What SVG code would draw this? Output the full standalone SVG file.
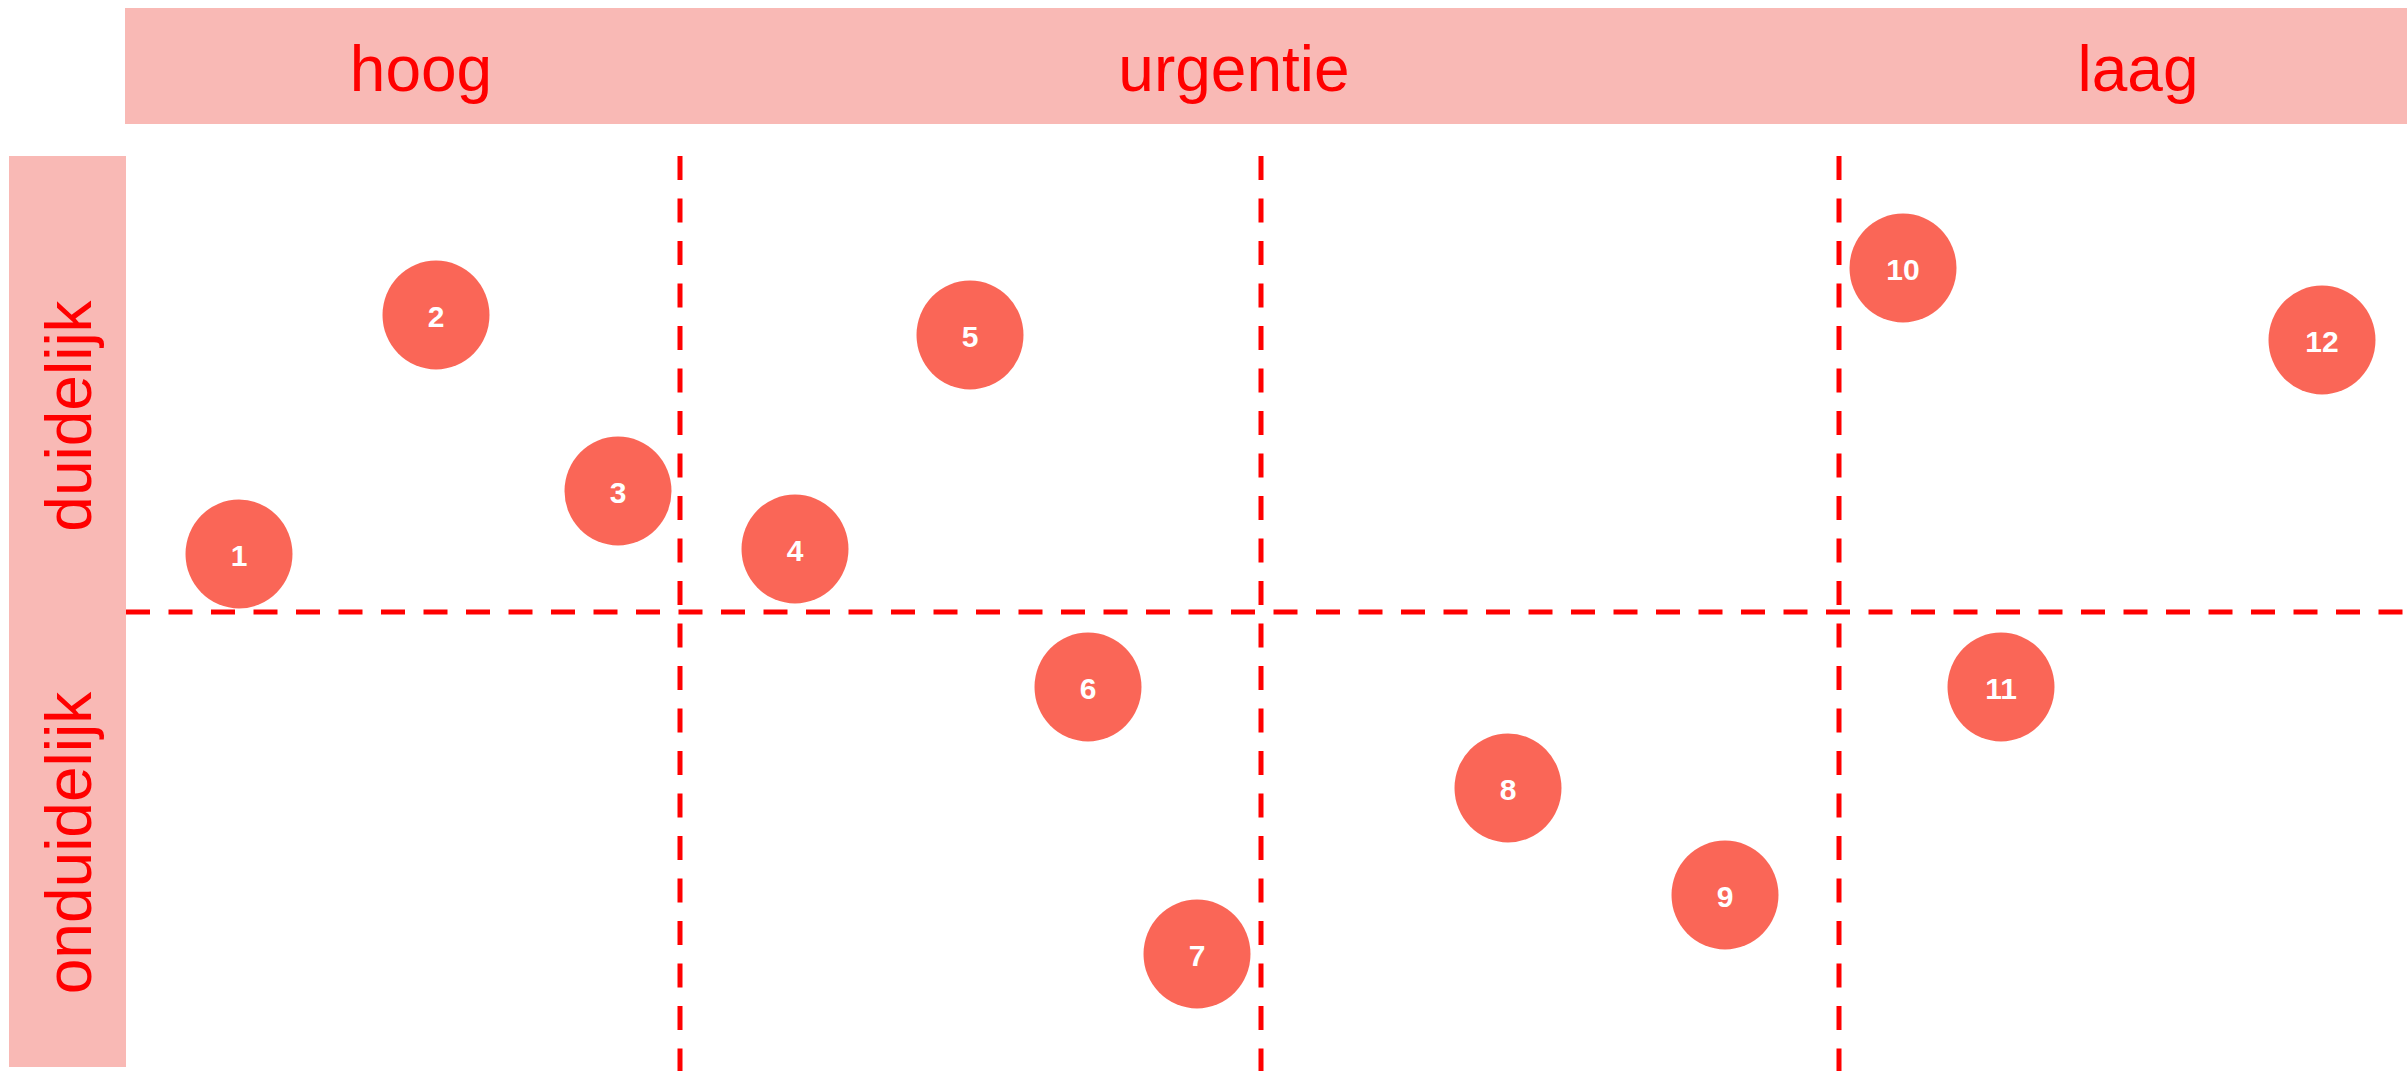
<svg xmlns="http://www.w3.org/2000/svg" width="2407" height="1071" viewBox="0 0 2407 1071">
<style>
.band{fill:#F9B9B5}
.axis{font-family:"Liberation Sans",Arial,sans-serif;font-size:64px;fill:#FF0000}
.grid line{stroke:#FF0000;stroke-width:5;stroke-dasharray:24 18.5;fill:none}
.node ellipse{fill:#FA6657}
.node text{font-family:"Liberation Sans",Arial,sans-serif;font-size:30px;font-weight:bold;fill:#FFFFFF;text-anchor:middle}
</style>
<rect width="2407" height="1071" fill="#FFFFFF"/>
<g id="header">
<rect class="band" x="125" y="8" width="2282" height="116"/>
<text class="axis" x="421" y="91" text-anchor="middle">hoog</text>
<text class="axis" x="1234" y="91" text-anchor="middle">urgentie</text>
<text class="axis" x="2138" y="91" text-anchor="middle">laag</text>
</g>
<g id="side">
<rect class="band" x="9" y="156" width="117" height="911"/>
<text class="axis" transform="translate(91,416) rotate(-90)" text-anchor="middle">duidelijk</text>
<text class="axis" transform="translate(91,843) rotate(-90)" text-anchor="middle">onduidelijk</text>
</g>
<g id="connectors" class="grid">
<line x1="126" y1="612" x2="2407" y2="612"/>
<line x1="680" y1="156" x2="680" y2="1071"/>
<line x1="1261" y1="156" x2="1261" y2="1071"/>
<line x1="1839" y1="156" x2="1839" y2="1071"/>
</g>
<g id="node1" class="node"><ellipse cx="239" cy="554" rx="53.5" ry="54.5"/><text x="239" y="566">1</text></g>
<g id="node2" class="node"><ellipse cx="436" cy="315" rx="53.5" ry="54.5"/><text x="436" y="327">2</text></g>
<g id="node3" class="node"><ellipse cx="618" cy="491" rx="53.5" ry="54.5"/><text x="618" y="503">3</text></g>
<g id="node4" class="node"><ellipse cx="795" cy="549" rx="53.5" ry="54.5"/><text x="795" y="561">4</text></g>
<g id="node5" class="node"><ellipse cx="970" cy="335" rx="53.5" ry="54.5"/><text x="970" y="347">5</text></g>
<g id="node6" class="node"><ellipse cx="1088" cy="687" rx="53.5" ry="54.5"/><text x="1088" y="699">6</text></g>
<g id="node7" class="node"><ellipse cx="1197" cy="954" rx="53.5" ry="54.5"/><text x="1197" y="966">7</text></g>
<g id="node8" class="node"><ellipse cx="1508" cy="788" rx="53.5" ry="54.5"/><text x="1508" y="800">8</text></g>
<g id="node9" class="node"><ellipse cx="1725" cy="895" rx="53.5" ry="54.5"/><text x="1725" y="907">9</text></g>
<g id="node10" class="node"><ellipse cx="1903" cy="268" rx="53.5" ry="54.5"/><text x="1903" y="280">10</text></g>
<g id="node11" class="node"><ellipse cx="2001" cy="687" rx="53.5" ry="54.5"/><text x="2001" y="699">11</text></g>
<g id="node12" class="node"><ellipse cx="2322" cy="340" rx="53.5" ry="54.5"/><text x="2322" y="352">12</text></g>
</svg>
